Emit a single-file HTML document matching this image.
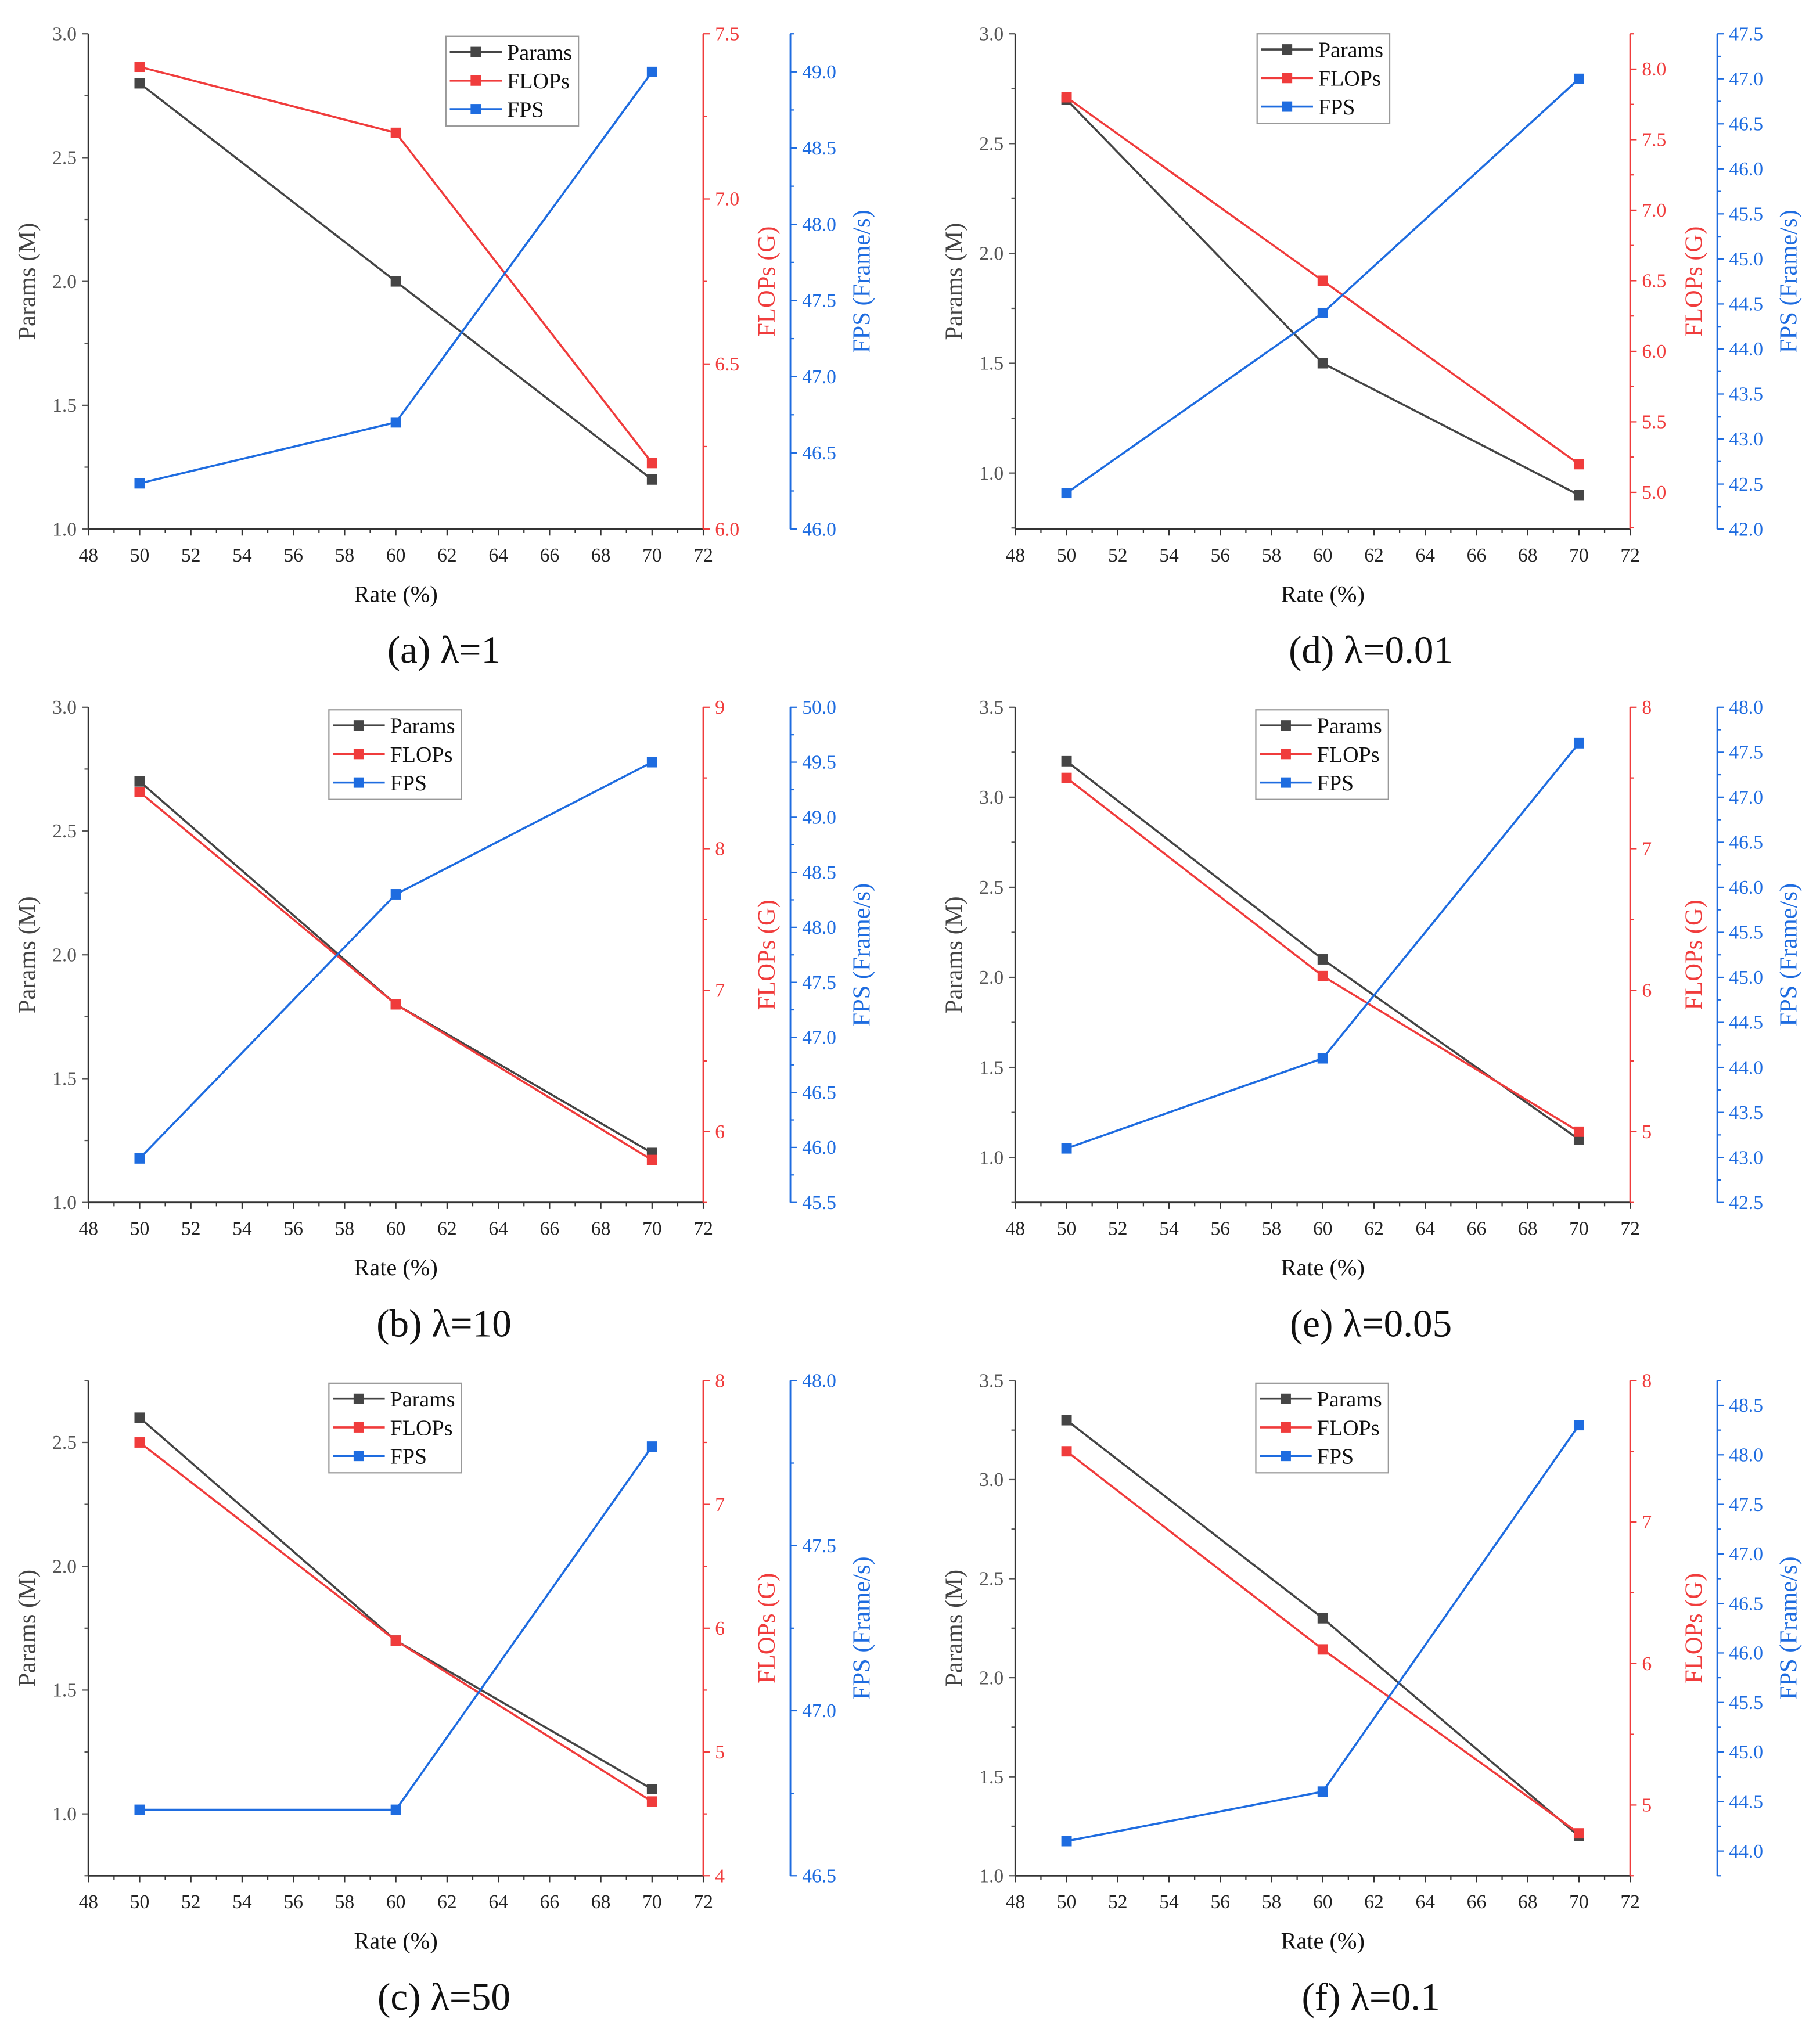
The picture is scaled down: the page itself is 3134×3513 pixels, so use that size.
<!DOCTYPE html>
<html><head><meta charset="utf-8"><style>
html,body{margin:0;padding:0;background:#fff}
svg{display:block}
svg, svg text{font-family:"Liberation Serif","Times New Roman",serif}
</style></head><body>
<svg id="fig" width="3134" height="3513" viewBox="0 0 1400 1569.3" font-family="Liberation Serif, serif" xmlns="http://www.w3.org/2000/svg"></svg>
<script>
const rates = [50, 60, 70];
const xTicks = [48,50,52,54,56,58,60,62,64,66,68,70,72];
const paramsA = [2.8, 2.0, 1.2], flopsA = [7.4, 7.2, 6.2], fpsA = [46.3, 46.7, 49.0];
const paramsD = [2.7, 1.5, 0.9], flopsD = [7.8, 6.5, 5.2], fpsD = [42.4, 44.4, 47.0];
const paramsB = [2.7, 1.8, 1.2], flopsB = [8.4, 6.9, 5.8], fpsB = [45.9, 48.3, 49.5];
const paramsE = [3.2, 2.1, 1.1], flopsE = [7.5, 6.1, 5.0], fpsE = [43.1, 44.1, 47.6];
const paramsC = [2.6, 1.7, 1.1], flopsC = [7.5, 5.9, 4.6], fpsC = [46.7, 46.7, 47.8];
const paramsF = [3.3, 2.3, 1.2], flopsF = [7.5, 6.1, 4.8], fpsF = [44.1, 44.6, 48.3];
const captions = ["(a) λ=1","(d) λ=0.01","(b) λ=10","(e) λ=0.05","(c) λ=50","(f) λ=0.1"];

const C_P = "#454545", C_F = "#f03c3c", C_S = "#1e6ce0";
const FF = "Liberation Serif, serif";
const NS = "http://www.w3.org/2000/svg";
const svg = document.getElementById("fig");
function mk(tag, attrs, parent, txt){
  const e = document.createElementNS(NS, tag);
  for (const k in attrs) e.setAttribute(k, attrs[k]);
  if (tag === "text") e.setAttribute("font-family", FF);
  if (txt !== undefined) e.textContent = txt;
  (parent || svg).appendChild(e); return e;
}
const panels = [
 {id:"a", col:0,row:0, p:paramsA,f:flopsA,s:fpsA, pr:[1,3,0.5,1], fr:[6,7.5,0.5,1], sr:[46,49.25,0.5,1], pt:[1,3], ft:[6,7.5], st:[46,49], leg:[343,28]},
 {id:"d", col:1,row:0, p:paramsD,f:flopsD,s:fpsD, pr:[0.745,3,0.5,1], fr:[4.74,8.25,0.5,1], sr:[42,47.5,0.5,1], pt:[1,3], ft:[5,8], st:[42,47.5], leg:[967,26]},
 {id:"b", col:0,row:1, p:paramsB,f:flopsB,s:fpsB, pr:[1,3,0.5,1], fr:[5.5,9,1,0], sr:[45.5,50,0.5,1], pt:[1,3], ft:[6,9], st:[45.5,50], leg:[253,546]},
 {id:"e", col:1,row:1, p:paramsE,f:flopsE,s:fpsE, pr:[0.75,3.5,0.5,1], fr:[4.5,8,1,0], sr:[42.5,48,0.5,1], pt:[1,3.5], ft:[5,8], st:[42.5,48], leg:[966,546]},
 {id:"c", col:0,row:2, p:paramsC,f:flopsC,s:fpsC, pr:[0.75,2.75,0.5,1], fr:[4,8,1,0], sr:[46.5,48,0.5,1], pt:[1,2.5], ft:[4,8], st:[46.5,48], leg:[253,1064]},
 {id:"f", col:1,row:2, p:paramsF,f:flopsF,s:fpsF, pr:[1,3.5,0.5,1], fr:[4.5,8,1,0], sr:[43.75,48.75,0.5,1], pt:[1,3.5], ft:[5,8], st:[44,48.5], leg:[966,1064]}
];
panels.forEach((P, idx) => {
  const L = 68 + P.col*713, R = L + 473, T = 26 + P.row*518, B = T + 381, S = R + 67;
  const g = mk("g", {}, svg);
  
  
  const xs = v => L + (v - 48) / 24 * (R - L);
  const ys = (r) => v => B - (v - r[0]) / (r[1] - r[0]) * (B - T);
  const yP = ys(P.pr), yF = ys(P.fr), yS = ys(P.sr);
  mk("line",{x1:L,y1:T,x2:L,y2:B,stroke:"#333","stroke-width":1.3},g);
  mk("line",{x1:L,y1:B,x2:R,y2:B,stroke:"#333","stroke-width":1.3},g);
  mk("line",{x1:R,y1:T,x2:R,y2:B,stroke:C_F,"stroke-width":1.3},g);
  mk("line",{x1:S,y1:T,x2:S,y2:B,stroke:C_S,"stroke-width":1.3},g);
  for (let v=48; v<=72; v++){
    const maj = v%2===0;
    mk("line",{x1:xs(v),y1:B,x2:xs(v),y2:B+(maj?5:3),stroke:"#333","stroke-width":1},g);
  }
  xTicks.forEach(v=>{
    const t = mk("text",{x:xs(v),y:B+25,"font-size":15,"text-anchor":"middle",fill:"#222"},g,String(v));
    
    
  });
  const xt = mk("text",{x:(L+R)/2,y:B+56,"font-size":18,"text-anchor":"middle",fill:"#111"},g,"Rate (%)");
  
  
  function yAxis(range, labs, sc, x, dir, col, fmt){
    const step = range[2], minor = step/2;
    const start = Math.ceil((range[0]-1e-9)/minor)*minor;
    for (let v=start; v<=range[1]+1e-9; v+=minor){
      const isMaj = Math.abs(Math.round(v/step)*step - v) < 1e-6;
      mk("line",{x1:x,y1:sc(v),x2:x+dir*(isMaj?5:3),y2:sc(v),stroke:col,"stroke-width":1},g);
    }
    for (let v=labs[0]; v<=labs[1]+1e-9; v+=step){
      const t = mk("text",{x:x+dir*9,y:sc(v)+5,"font-size":15,"text-anchor":dir<0?"end":"start",fill:col},g,v.toFixed(fmt));
      
      
    }
  }
  yAxis(P.pr, P.pt, yP, L, -1, "#555", 1);
  yAxis(P.fr, P.ft, yF, R, 1, C_F, P.fr[3]);
  yAxis(P.sr, P.st, yS, S, 1, C_S, 1);
  const my = (T+B)/2;
  function ttl(x, txt, col, name){
    const t = mk("text",{x:x,y:my,"font-size":19,"text-anchor":"middle",fill:col,transform:`rotate(-90 ${x} ${my})`},g,txt);
    
    
  }
  ttl(L-41, "Params (M)", "#444", "params-axis-title");
  ttl(R+55, "FLOPs (G)", C_F, "flops-axis-title");
  ttl(S+61, "FPS (Frame/s)", C_S, "fps-axis-title");
  function series(vals, sc, col, name){
    const pts = vals.map((v,i)=>xs(rates[i])+","+sc(v)).join(" ");
    const pl = mk("polyline",{points:pts,fill:"none",stroke:col,"stroke-width":1.6},g);
    
    
    vals.forEach((v,i)=>{
      const r = mk("rect",{x:xs(rates[i])-4,y:sc(v)-4,width:8,height:8,fill:col},g);
      
      
    });
  }
  series(P.p, yP, C_P, "params");
  series(P.f, yF, C_F, "flops");
  series(P.s, yS, C_S, "fps");
  const lx = P.leg[0], ly = P.leg[1];
  const lg = mk("g",{},g);
  
  
  mk("rect",{x:lx,y:ly,width:102,height:69,fill:"#fff",stroke:"#999","stroke-width":1},lg);
  [["Params",C_P],["FLOPs",C_F],["FPS",C_S]].forEach((e,i)=>{
    const yy = ly + 12 + i*22;
    mk("line",{x1:lx+3,y1:yy,x2:lx+43,y2:yy,stroke:e[1],"stroke-width":1.6},lg);
    mk("rect",{x:lx+19,y:yy-4,width:8,height:8,fill:e[1]},lg);
    const t = mk("text",{x:lx+47,y:yy+6,"font-size":17,fill:"#111"},lg,e[0]);
    
    
  });
  const cap = mk("text",{x:(L+R)/2+37,y:B+103,"font-size":30,"text-anchor":"middle",fill:"#111"},g,captions[idx]);
  
  
});
</script>
</body></html>
